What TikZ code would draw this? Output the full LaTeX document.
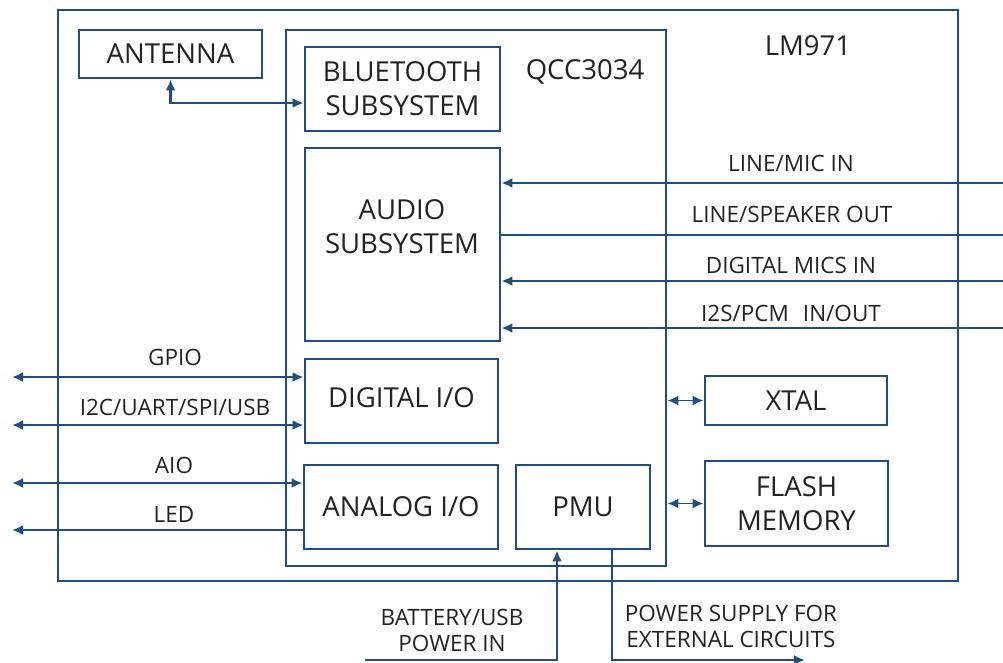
\documentclass[tikz,border=0pt]{standalone}
\usepackage{fontspec}
\setmainfont{Open Sans}
\usetikzlibrary{arrows.meta}
\definecolor{bl}{RGB}{31,78,130}
\definecolor{tx}{RGB}{34,34,34}
\tikzset{
  box/.style={draw=bl, line width=2.9pt, inner sep=0pt, text=tx, align=center, font=\fontsize{27.5}{34}\selectfont},
  conn/.style={draw=bl, line width=2.7pt},
  thinconn/.style={draw=bl, line width=1.8pt},
  tip/.style={-{Latex[length=11pt,width=10pt]}},
  tips/.style={{Latex[length=11pt,width=10pt]}-{Latex[length=11pt,width=10pt]}},
  lbl/.style={text=tx, align=center, inner sep=0pt, font=\fontsize{22.5}{26}\selectfont},
  big/.style={text=tx, align=center, inner sep=0pt, font=\fontsize{27.5}{34}\selectfont}
}
\begin{document}
\begin{tikzpicture}[x=1pt,y=-1pt]
\useasboundingbox (0,0) rectangle (1003,662);
% outer and chip boxes
\node[box, minimum width=900pt, minimum height=571pt] (lm) at (508,295.5) {};
\node[big] (lmtxt) at (808,46) {LM971};
\node[box, minimum width=380pt, minimum height=536pt] (qcc) at (476,298) {};
\node[big] (qcctxt) at (585,72) {QCC3034};
% blocks
\node[box, minimum width=183pt, minimum height=48pt] (ant) at (170.5,54) {ANTENNA};
\node[box, minimum width=195pt, minimum height=84pt] (bt) at (402.5,89) {BLUETOOTH\\SUBSYSTEM};
\node[box, minimum width=195pt, minimum height=193pt] (audio) at (402.5,244.5) {};
\node[big] (audiotxt) at (402,227) {AUDIO\\SUBSYSTEM};
\node[box, minimum width=193pt, minimum height=84pt] (dio) at (401.5,401) {DIGITAL I/O\rule[-6pt]{0pt}{1pt}};
\node[box, minimum width=194pt, minimum height=84pt] (aio) at (401,507) {ANALOG I/O};
\node[box, minimum width=134pt, minimum height=84pt] (pmu) at (583,507) {PMU};
\node[box, minimum width=182pt, minimum height=49pt] (xtal) at (796,400.5) {XTAL};
\node[box, minimum width=183pt, minimum height=85pt] (flash) at (796.5,503.5) {FLASH\\MEMORY};
% antenna link
\draw[conn, tips] (ant.south) |- ([yshift=-14pt]bt.west);
% audio links
\coordinate (r1) at (1003,183);
\coordinate (r2) at (1003,235);
\coordinate (r3) at (1003,281);
\coordinate (r4) at (1003,328);
\draw[conn, tip] (r1) -- (audio.east |- r1);
\draw[conn] (audio.east |- r2) -- (r2);
\draw[conn, tip] (r3) -- (audio.east |- r3);
\draw[conn, tip] (r4) -- (audio.east |- r4);
\node[lbl] (t1) at (791,163) {LINE/MIC IN};
\node[lbl] (t2) at (792,214) {LINE/SPEAKER OUT};
\node[lbl] (t3) at (791,265) {DIGITAL MICS IN};
\node[lbl] (t4) at (791,313) {I2S/PCM\hspace{14pt}IN/OUT};
% left links
\coordinate (l1) at (12,377);
\coordinate (l2) at (12,425);
\coordinate (l3) at (12,483);
\coordinate (l4) at (12,530);
\draw[conn, tips] (l1) -- (dio.west |- l1);
\draw[conn, tips] (l2) -- (dio.west |- l2);
\draw[conn, tips] (l3) -- (aio.west |- l3);
\draw[conn, tip] (aio.west |- l4) -- (l4);
\node[lbl] (g1) at (175,357) {GPIO};
\node[lbl] (g2) at (175,407) {I2C/UART/SPI/USB};
\node[lbl] (g3) at (174,465) {AIO};
\node[lbl] (g4) at (174,514) {LED};
% xtal / flash
\draw[thinconn, tips] (qcc.east |- xtal.west) -- (xtal.west);
\draw[thinconn, tips] (qcc.east |- flash.west) -- (flash.west);
% power
\coordinate (bat) at (365,660);
\coordinate (ps) at (805,660);
\draw[conn, tip] (bat) -| ([xshift=-26pt]pmu.south);
\draw[conn, tip] ([xshift=29pt]pmu.south) |- (ps);
\node[lbl] (b1) at (452,630) {BATTERY/USB\\POWER IN};
\node[lbl] (p1) at (731,626) {POWER SUPPLY FOR\\EXTERNAL CIRCUITS};
\end{tikzpicture}
\end{document}
